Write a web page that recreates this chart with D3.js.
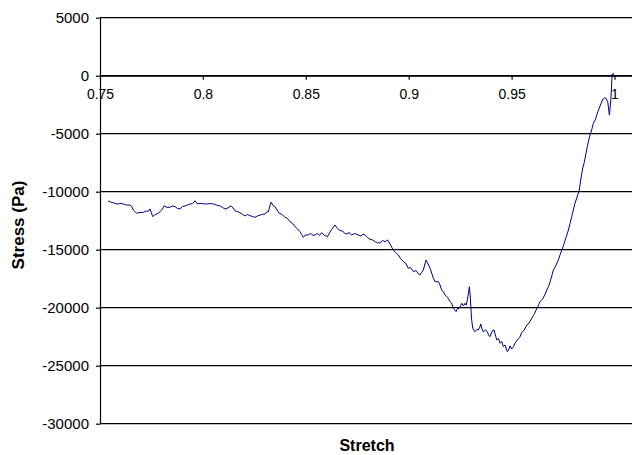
<!DOCTYPE html>
<html>
<head>
<meta charset="utf-8">
<script src="https://cdn.jsdelivr.net/npm/d3@7"></script>
<style>
  body { margin: 0; background: #fff; }
  svg { display: block; font-family: "Liberation Sans", Arial, sans-serif; }
</style>
</head>
<body>
<svg id="chart" width="632" height="455"></svg>
<script>
const stretch = [
  0.7539, 0.7551, 0.7565, 0.7578, 0.7589, 0.7602, 0.7613, 0.7629, 0.7646, 0.7654,
  0.7662, 0.7670, 0.7678, 0.7694, 0.7710, 0.7724, 0.7735, 0.7743, 0.7750, 0.7756,
  0.7765, 0.7776, 0.7787, 0.7800, 0.7812, 0.7826, 0.7840, 0.7852, 0.7865, 0.7877,
  0.7889, 0.7901, 0.7913, 0.7925, 0.7937, 0.7950, 0.7962, 0.7973, 0.7986, 0.8002,
  0.8019, 0.8035, 0.8051, 0.8066, 0.8083, 0.8095, 0.8108, 0.8122, 0.8137, 0.8146,
  0.8156, 0.8168, 0.8180, 0.8193, 0.8205, 0.8217, 0.8229, 0.8241, 0.8253, 0.8265,
  0.8278, 0.8290, 0.8302, 0.8310, 0.8318, 0.8324, 0.8331, 0.8341, 0.8351, 0.8360,
  0.8371, 0.8385, 0.8399, 0.8411, 0.8423, 0.8436, 0.8448, 0.8460, 0.8472, 0.8480,
  0.8488, 0.8498, 0.8512, 0.8523, 0.8535, 0.8545, 0.8557, 0.8567, 0.8577, 0.8588,
  0.8605, 0.8615, 0.8626, 0.8635, 0.8642, 0.8654, 0.8666, 0.8679, 0.8689, 0.8699,
  0.8710, 0.8723, 0.8737, 0.8755, 0.8768, 0.8778, 0.8788, 0.8800, 0.8812, 0.8824,
  0.8837, 0.8849, 0.8861, 0.8873, 0.8885, 0.8897, 0.8909, 0.8917, 0.8925, 0.8936,
  0.8950, 0.8960, 0.8974, 0.8985, 0.8998, 0.9009, 0.9023, 0.9036, 0.9045, 0.9055,
  0.9063, 0.9071, 0.9079, 0.9084, 0.9094, 0.9104, 0.9113, 0.9120, 0.9128, 0.9144,
  0.9152, 0.9160, 0.9169, 0.9177, 0.9189, 0.9201, 0.9208, 0.9217, 0.9230, 0.9237,
  0.9246, 0.9258, 0.9266, 0.9274, 0.9279, 0.9285, 0.9291, 0.9295, 0.9299, 0.9302,
  0.9305, 0.9311, 0.9322, 0.9331, 0.9338, 0.9346, 0.9350, 0.9356, 0.9362, 0.9373,
  0.9382, 0.9388, 0.9395, 0.9402, 0.9408, 0.9415, 0.9421, 0.9428, 0.9436, 0.9444,
  0.9452, 0.9460, 0.9468, 0.9479, 0.9485, 0.9493, 0.9500, 0.9509, 0.9517, 0.9528,
  0.9539, 0.9549, 0.9561, 0.9574, 0.9585, 0.9598, 0.9609, 0.9619, 0.9629, 0.9638,
  0.9651, 0.9663, 0.9671, 0.9679, 0.9687, 0.9695, 0.9703, 0.9714, 0.9727, 0.9736,
  0.9744, 0.9753, 0.9760, 0.9768, 0.9776, 0.9784, 0.9792, 0.9800, 0.9808, 0.9818,
  0.9829, 0.9835, 0.9841, 0.9847, 0.9852, 0.9860, 0.9868, 0.9875, 0.9881, 0.9889,
  0.9897, 0.9906, 0.9914, 0.9922, 0.9932, 0.9943, 0.9952, 0.9959, 0.9967, 0.9971,
  0.9975, 0.9979, 0.9982, 0.9985, 0.9987, 0.9989, 0.9992, 0.9995
];
const stress = [
  -10800, -10890, -10950, -11040, -11060, -11000, -11060, -11150, -11150, -11270,
  -11580, -11710, -11860, -11790, -11780, -11660, -11690, -11490, -11840, -12150,
  -12010, -11920, -11790, -11580, -11210, -11360, -11340, -11230, -11290, -11450,
  -11490, -11280, -11230, -11150, -11060, -11020, -10780, -11060, -11000, -11040,
  -11060, -11020, -11060, -11150, -11230, -11360, -11490, -11400, -11210, -11400,
  -11640, -11710, -11810, -11960, -12090, -11960, -12070, -12140, -12210, -12090,
  -12010, -11960, -11920, -11750, -11720, -11320, -10910, -11190, -11290, -11580,
  -11860, -11960, -12210, -12310, -12590, -12740, -13020, -13210, -13450, -13690,
  -13930, -13730, -13730, -13600, -13770, -13730, -13600, -13770, -13530, -13730,
  -13880, -13560, -13240, -13040, -12870, -13170, -13360, -13390, -13600, -13650,
  -13520, -13730, -13600, -13730, -13820, -13650, -13730, -13950, -14100, -14160,
  -14310, -14420, -14400, -14210, -14310, -14160, -14510, -14770, -15030, -15240,
  -15460, -15760, -16030, -16150, -16600, -16530, -16900, -16790, -17050, -17180,
  -16960, -16750, -16230, -15890, -16230, -16600, -17090, -17460, -17760, -17760,
  -18040, -18470, -18650, -18900, -19120, -19480, -19590, -20050, -20340, -20070,
  -20050, -19620, -19850, -19620, -19770, -19340, -18650, -18190, -18990, -19910,
  -20890, -21770, -22070, -21880, -21920, -21660, -21400, -21830, -22070, -21920,
  -22070, -22350, -22500, -22180, -21960, -21920, -22350, -22780, -22650, -23070,
  -22910, -23360, -23210, -23790, -23650, -23300, -23560, -23360, -23040, -22780,
  -22570, -22150, -21920, -21490, -21320, -20910, -20590, -20200, -19850, -19480,
  -19250, -18820, -18470, -18190, -17780, -17270, -16750, -16400, -15890, -15410,
  -15030, -14590, -14160, -13770, -13300, -12740, -12150, -11580, -11000, -10460,
  -9850, -9080, -8410, -7870, -7550, -6840, -6120, -5540, -5110, -4680,
  -4100, -3820, -3390, -2960, -2530, -2030, -1920, -1950, -2240, -2780,
  -3390, -2700, -2090, -1230, -370, 150, 20, 230
];
const xTicks = [0.75, 0.8, 0.85, 0.9, 0.95, 1];
const yTicks = [5000, 0, -5000, -10000, -15000, -20000, -25000, -30000];

const svg = d3.select("#chart");
const plotLeft = 100, plotRight = 632, plotTop = 17.7, plotBottom = 423.7;

const x = d3.scaleLinear().domain([0.75, 1.0085]).range([plotLeft, plotRight]);
const y = d3.scaleLinear().domain([-30000, 5000]).range([plotBottom, plotTop]);

// horizontal gridlines
svg.append("g")
  .selectAll("line")
  .data(yTicks)
  .join("line")
  .attr("x1", plotLeft)
  .attr("x2", plotRight)
  .attr("y1", d => y(d))
  .attr("y2", d => y(d))
  .attr("stroke", "#000")
  .attr("stroke-width", 1.2);

// y axis
const yAxis = svg.append("g")
  .attr("transform", `translate(${plotLeft},0)`)
  .call(d3.axisLeft(y).tickValues(yTicks).tickSize(4).tickSizeOuter(0).tickPadding(7).tickFormat(d => String(d)));
yAxis.selectAll("text").attr("font-size", 15).attr("font-family", null).attr("fill", "#000");
yAxis.selectAll("path, line").attr("stroke", "#000").attr("stroke-width", 1.2);

// x axis sits on stress = 0
const xAxis = svg.append("g")
  .attr("transform", `translate(0,${y(0)})`)
  .call(d3.axisBottom(x).tickValues(xTicks).tickSize(4).tickSizeOuter(0).tickFormat(d => String(d)));
xAxis.selectAll("text").attr("font-size", 14).attr("font-family", null).attr("fill", "#000").attr("y", 13.5);
xAxis.selectAll("path, line").attr("stroke", "#000").attr("stroke-width", 1.2);

// stress curve
const points = stretch.map((s, i) => [s, stress[i]]);
svg.append("path")
  .datum(points)
  .attr("fill", "none")
  .attr("stroke", "#000080")
  .attr("stroke-width", 1)
  .attr("d", d3.line().x(d => x(d[0])).y(d => y(d[1])));

// axis titles
svg.append("text")
  .attr("transform", "translate(24,225) rotate(-90)")
  .attr("text-anchor", "middle")
  .attr("font-weight", "bold")
  .attr("font-size", 17)
  .text("Stress (Pa)");

svg.append("text")
  .attr("x", 367)
  .attr("y", 451)
  .attr("text-anchor", "middle")
  .attr("font-weight", "bold")
  .attr("font-size", 16)
  .text("Stretch");
</script>
</body>
</html>
